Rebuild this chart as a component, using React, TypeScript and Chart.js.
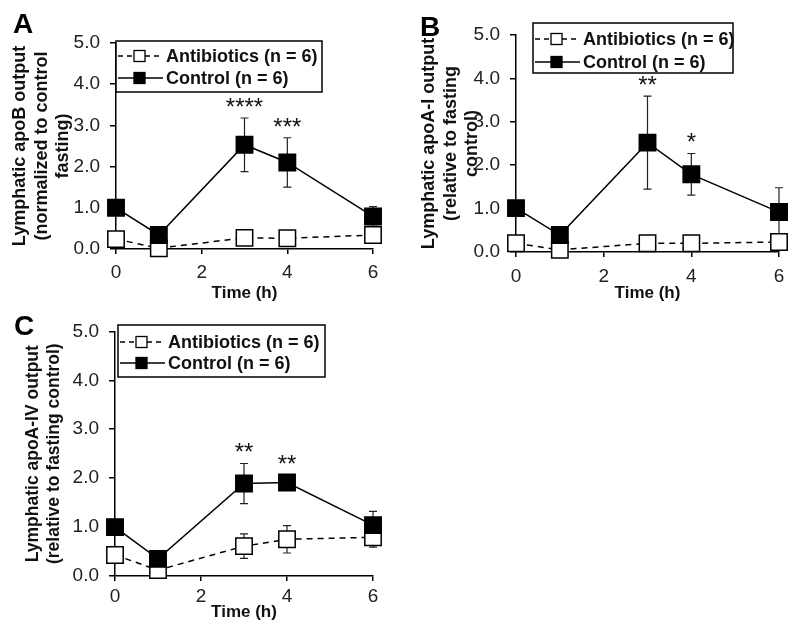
import React, { useEffect, useRef } from 'react';
import { Chart, registerables } from 'chart.js';
Chart.register(...registerables);

// ---------- data ----------
const timeHours = [0, 1, 3, 4, 6];
const xTickValues = [0, 2, 4, 6];
const seriesLabels = ['Antibiotics (n = 6)', 'Control (n = 6)'];

// Panel A: apoB
const apoBAntibiotics = [0.24, 0.02, 0.27, 0.26, 0.34];
const apoBAntibioticsSem = [0, 0, 0, 0, 0];
const apoBControl = [1.0, 0.34, 2.53, 2.1, 0.79];
const apoBControlSem = [0, 0, 0.65, 0.6, 0.24];
const apoBStars = ['', '', '****', '***', ''];

// Panel B: apoA-I
const apoAIAntibiotics = [0.2, 0.05, 0.2, 0.2, 0.23];
const apoAIAntibioticsSem = [0, 0, 0, 0, 0];
const apoAIControl = [1.01, 0.39, 2.52, 1.79, 0.92];
const apoAIControlSem = [0, 0, 1.07, 0.48, 0.56];
const apoAIStars = ['', '', '**', '*', ''];

// Panel C: apoA-IV
const apoAIVAntibiotics = [0.43, 0.12, 0.61, 0.75, 0.79];
const apoAIVAntibioticsSem = [0, 0, 0.25, 0.28, 0.2];
const apoAIVControl = [1.0, 0.35, 1.89, 1.91, 1.04];
const apoAIVControlSem = [0, 0, 0.41, 0.03, 0.28];
const apoAIVStars = ['', '', '**', '**', ''];

const FONT = "'Liberation Sans', Arial, Helvetica, sans-serif";

type PanelCfg = {
  letter: string;
  left: number; top: number; w: number; h: number;
  area: { left: number; top: number; right: number; bottom: number };
  yTitle: string[];
  yTitleSize: number;
  yTitlePad: number;
  xTickPad: number;
  xTitlePad: number;
  legend: { x: number; y: number; w: number; h: number; row1: number; row2: number };
  letterPos: { x: number; y: number };
  antibiotics: number[]; antibioticsSem: number[];
  control: number[]; controlSem: number[];
  stars: string[];
};

const panels: PanelCfg[] = [
  {
    letter: 'A', left: 0, top: 0, w: 400, h: 310,
    area: { left: 116, top: 43, right: 373, bottom: 249 },
    yTitle: ['Lymphatic apoB output', '(normalized to control', 'fasting)'],
    yTitleSize: 18, yTitlePad: 10, xTickPad: 7, xTitlePad: 6,
    legend: { x: 116, y: 41, w: 206, h: 51, row1: 15, row2: 37 },
    letterPos: { x: 13, y: 33 },
    antibiotics: apoBAntibiotics, antibioticsSem: apoBAntibioticsSem,
    control: apoBControl, controlSem: apoBControlSem, stars: apoBStars,
  },
  {
    letter: 'B', left: 400, top: 0, w: 400, h: 310,
    area: { left: 116, top: 35, right: 379, bottom: 252 },
    yTitle: ['Lymphatic apoA-I output', '(relative to fasting', 'control)'],
    yTitleSize: 18, yTitlePad: 19, xTickPad: 8, xTitlePad: 6,
    legend: { x: 133, y: 23, w: 200, h: 50, row1: 16, row2: 39 },
    letterPos: { x: 20, y: 36 },
    antibiotics: apoAIAntibiotics, antibioticsSem: apoAIAntibioticsSem,
    control: apoAIControl, controlSem: apoAIControlSem, stars: apoAIStars,
  },
  {
    letter: 'C', left: 0, top: 310, w: 400, h: 324,
    area: { left: 115, top: 20, right: 373, bottom: 266 },
    yTitle: ['Lymphatic apoA-IV output', '(relative to fasting control)'],
    yTitleSize: 17.5, yTitlePad: 23, xTickPad: 4, xTitlePad: 11,
    legend: { x: 118, y: 15, w: 207, h: 52, row1: 17, row2: 38 },
    letterPos: { x: 14, y: 25 },
    antibiotics: apoAIVAntibiotics, antibioticsSem: apoAIVAntibioticsSem,
    control: apoAIVControl, controlSem: apoAIVControlSem, stars: apoAIVStars,
  },
];

const MARKER_R = 11.6; // rect side = 2 * SQRT1_2 * r ~ 16px

function Panel({ cfg }: { cfg: PanelCfg }) {
  const ref = useRef<HTMLCanvasElement>(null);
  useEffect(() => {
    const canvas = ref.current!;
    const sems = [cfg.controlSem, cfg.antibioticsSem];

    const errorBars = {
      id: 'errorBars',
      beforeDatasetsDraw(chart: any) {
        const ctx = chart.ctx;
        const ys = chart.scales.y;
        ctx.save();
        ctx.strokeStyle = '#222';
        ctx.lineWidth = 1.2;
        chart.data.datasets.forEach((ds: any, di: number) => {
          const meta = chart.getDatasetMeta(di);
          ds.data.forEach((p: any, i: number) => {
            const e = sems[di][i];
            if (!e) return;
            const x = meta.data[i].x;
            const yt = ys.getPixelForValue(p.y + e);
            const yb = ys.getPixelForValue(Math.max(0, p.y - e));
            ctx.beginPath();
            ctx.moveTo(x, yt); ctx.lineTo(x, yb);
            ctx.moveTo(x - 4, yt); ctx.lineTo(x + 4, yt);
            ctx.moveTo(x - 4, yb); ctx.lineTo(x + 4, yb);
            ctx.stroke();
          });
        });
        ctx.restore();
      },
    };

    const stars = {
      id: 'stars',
      afterDatasetsDraw(chart: any) {
        const ctx = chart.ctx;
        const ys = chart.scales.y;
        const meta = chart.getDatasetMeta(0);
        ctx.save();
        ctx.fillStyle = '#111';
        ctx.font = `24px ${FONT}`;
        ctx.textAlign = 'center';
        ctx.textBaseline = 'alphabetic';
        cfg.stars.forEach((s, i) => {
          if (!s) return;
          const x = meta.data[i].x;
          const yMarkerTop = meta.data[i].y - 8;
          const yErrTop = ys.getPixelForValue(cfg.control[i] + cfg.controlSem[i]);
          const y = Math.min(yMarkerTop, yErrTop) - 3;
          ctx.fillText(s, x, y);
        });
        ctx.restore();
      },
    };

    const legendBox = {
      id: 'legendBox',
      afterDraw(chart: any) {
        const ctx = chart.ctx;
        const L = cfg.legend;
        ctx.save();
        ctx.fillStyle = '#fff';
        ctx.fillRect(L.x, L.y, L.w, L.h);
        ctx.strokeStyle = '#000';
        ctx.lineWidth = 1.5;
        ctx.strokeRect(L.x, L.y, L.w, L.h);
        const rows = [
          { y: L.y + L.row1, dash: [5, 4], fill: '#fff', label: seriesLabels[0] },
          { y: L.y + L.row2, dash: [], fill: '#000', label: seriesLabels[1] },
        ];
        rows.forEach((r) => {
          ctx.setLineDash(r.dash);
          ctx.lineWidth = 1.5;
          ctx.beginPath();
          ctx.moveTo(L.x + 2, r.y);
          ctx.lineTo(L.x + 47, r.y);
          ctx.stroke();
          ctx.setLineDash([]);
          ctx.fillStyle = r.fill;
          ctx.fillRect(L.x + 18, r.y - 5.5, 11, 11);
          ctx.lineWidth = 1.3;
          ctx.strokeRect(L.x + 18, r.y - 5.5, 11, 11);
          ctx.fillStyle = '#111';
          ctx.font = `bold 18px ${FONT}`;
          ctx.textAlign = 'left';
          ctx.textBaseline = 'middle';
          ctx.fillText(r.label, L.x + 50, r.y + 1);
        });
        ctx.fillStyle = '#000';
        ctx.font = `bold 28px ${FONT}`;
        ctx.textBaseline = 'alphabetic';
        ctx.fillText(cfg.letter, cfg.letterPos.x, cfg.letterPos.y);
        ctx.restore();
      },
    };

    const chart = new Chart(canvas, {
      type: 'line',
      data: {
        datasets: [
          {
            label: seriesLabels[1],
            data: timeHours.map((t, i) => ({ x: t, y: cfg.control[i] })),
            borderColor: '#000',
            backgroundColor: '#000',
            borderWidth: 1.5,
            pointStyle: 'rect',
            pointRadius: MARKER_R,
            pointBorderWidth: 1.5,
            pointBorderColor: '#000',
            pointBackgroundColor: '#000',
            clip: false,
          } as any,
          {
            label: seriesLabels[0],
            data: timeHours.map((t, i) => ({ x: t, y: cfg.antibiotics[i] })),
            borderColor: '#000',
            backgroundColor: '#fff',
            borderWidth: 1.5,
            borderDash: [6, 5],
            pointStyle: 'rect',
            pointRadius: MARKER_R,
            pointBorderWidth: 1.5,
            pointBorderColor: '#000',
            pointBackgroundColor: '#fff',
            clip: false,
          } as any,
        ],
      },
      options: {
        animation: false,
        responsive: false,
        maintainAspectRatio: false,
        devicePixelRatio: 1,
        layout: {
          padding: { left: 0, top: cfg.area.top, right: cfg.w - cfg.area.right, bottom: 0 },
        },
        plugins: { legend: { display: false }, tooltip: { enabled: false } },
        scales: {
          x: {
            type: 'linear',
            min: 0, max: 6,
            afterBuildTicks: (s: any) => { s.ticks = xTickValues.map((v) => ({ value: v })); },
            afterFit: (s: any) => { s.height = cfg.h - cfg.area.bottom; },
            ticks: {
              color: '#222', font: { family: FONT, size: 19 }, padding: cfg.xTickPad,
              callback: (v: any) => String(v), maxRotation: 0,
            },
            grid: { display: true, drawOnChartArea: false, drawTicks: true, tickLength: 5, color: '#000', lineWidth: 1.5 },
            border: { display: true, color: '#000', width: 1.5 },
            title: {
              display: true, text: 'Time (h)', color: '#111',
              font: { family: FONT, size: 17, weight: 'bold', lineHeight: 1.2 },
              padding: { top: 0, bottom: cfg.xTitlePad },
            },
          },
          y: {
            type: 'linear',
            min: 0, max: 5,
            afterFit: (s: any) => { s.width = cfg.area.left; },
            ticks: {
              stepSize: 1, color: '#222', font: { family: FONT, size: 19 }, padding: 10,
              callback: (v: any) => Number(v).toFixed(1),
            },
            grid: { display: true, drawOnChartArea: false, drawTicks: true, tickLength: 6, color: '#000', lineWidth: 1.5 },
            border: { display: true, color: '#000', width: 1.5 },
            title: {
              display: true, text: cfg.yTitle, color: '#111',
              font: { family: FONT, size: cfg.yTitleSize, weight: 'bold', lineHeight: 1.17 },
              padding: { top: cfg.yTitlePad, bottom: 0 },
            },
          },
        },
      } as any,
      plugins: [errorBars, stars, legendBox],
    });
    return () => chart.destroy();
  }, []);
  return (
    <canvas
      ref={ref}
      width={cfg.w}
      height={cfg.h}
      style={{ position: 'absolute', left: cfg.left, top: cfg.top, width: cfg.w, height: cfg.h }}
    />
  );
}

export default function App() {
  return (
    <div style={{ position: 'absolute', left: 0, top: 0, width: 800, height: 634, background: '#fff', overflow: 'hidden' }}>
      {panels.map((p) => (
        <Panel key={p.letter} cfg={p} />
      ))}
    </div>
  );
}
